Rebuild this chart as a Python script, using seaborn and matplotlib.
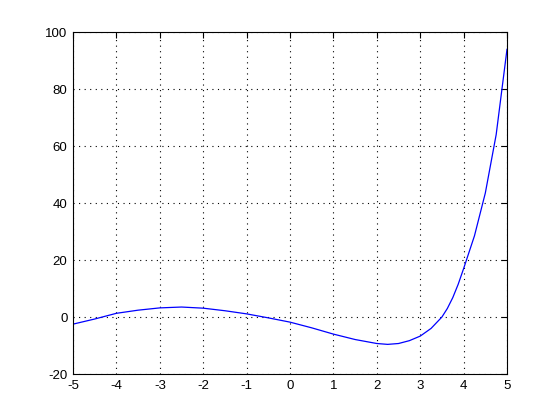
import numpy as np
import pandas as pd
import seaborn as sns
import matplotlib
matplotlib.use('Agg')
import matplotlib.pyplot as plt

# values
x_vals = [-5.0, -4.5, -4.0, -3.5, -3.0, -2.5, -2.0, -1.5, -1.0, -0.5,
          0.0, 0.5, 1.0, 1.5, 2.0, 2.25, 2.5, 2.75, 3.0, 3.25,
          3.5, 3.625, 3.75, 3.875, 4.0, 4.25, 4.5, 4.75, 5.0]
y_vals = [-2.5, -0.7, 1.3, 2.4, 3.2, 3.5, 3.1, 2.2, 1.1, -0.3,
          -1.8, -3.8, -6.0, -7.9, -9.3, -9.6, -9.3, -8.3, -6.7, -4.0,
          0.0, 3.0, 6.8, 11.5, 17.0, 28.5, 43.5, 64.0, 94.0]
x_ticks = [-5, -4, -3, -2, -1, 0, 1, 2, 3, 4, 5]
y_ticks = [-20, 0, 20, 40, 60, 80, 100]

df = pd.DataFrame({'x': x_vals, 'y': y_vals})

sns.set_style('white')
plt.rcParams['font.family'] = ['Liberation Sans', 'DejaVu Sans']
plt.rcParams['axes.unicode_minus'] = False

fig = plt.figure(figsize=(5.6, 4.2), dpi=100)
fig.patch.set_facecolor('white')
ax = fig.add_axes([0.1304, 0.1095, 0.775, 0.8143])

sns.lineplot(data=df, x='x', y='y', color='#0000ff', linewidth=0.9, ax=ax)

ax.set_xlim(-5, 5)
ax.set_ylim(-20, 100)
ax.set_xticks(x_ticks)
ax.set_yticks(y_ticks)
ax.set_xlabel('')
ax.set_ylabel('')

# matlab style grid and ticks
ax.grid(True, color='black', linestyle=(0, (1, 4)), linewidth=0.8)
ax.tick_params(direction='in', length=4, width=0.8, top=True, right=True,
               labelsize=9.5, colors='black', pad=4)
for s in ax.spines.values():
    s.set_visible(True)
    s.set_color('black')
    s.set_linewidth(0.8)

fig.savefig('out.png', dpi=100)
